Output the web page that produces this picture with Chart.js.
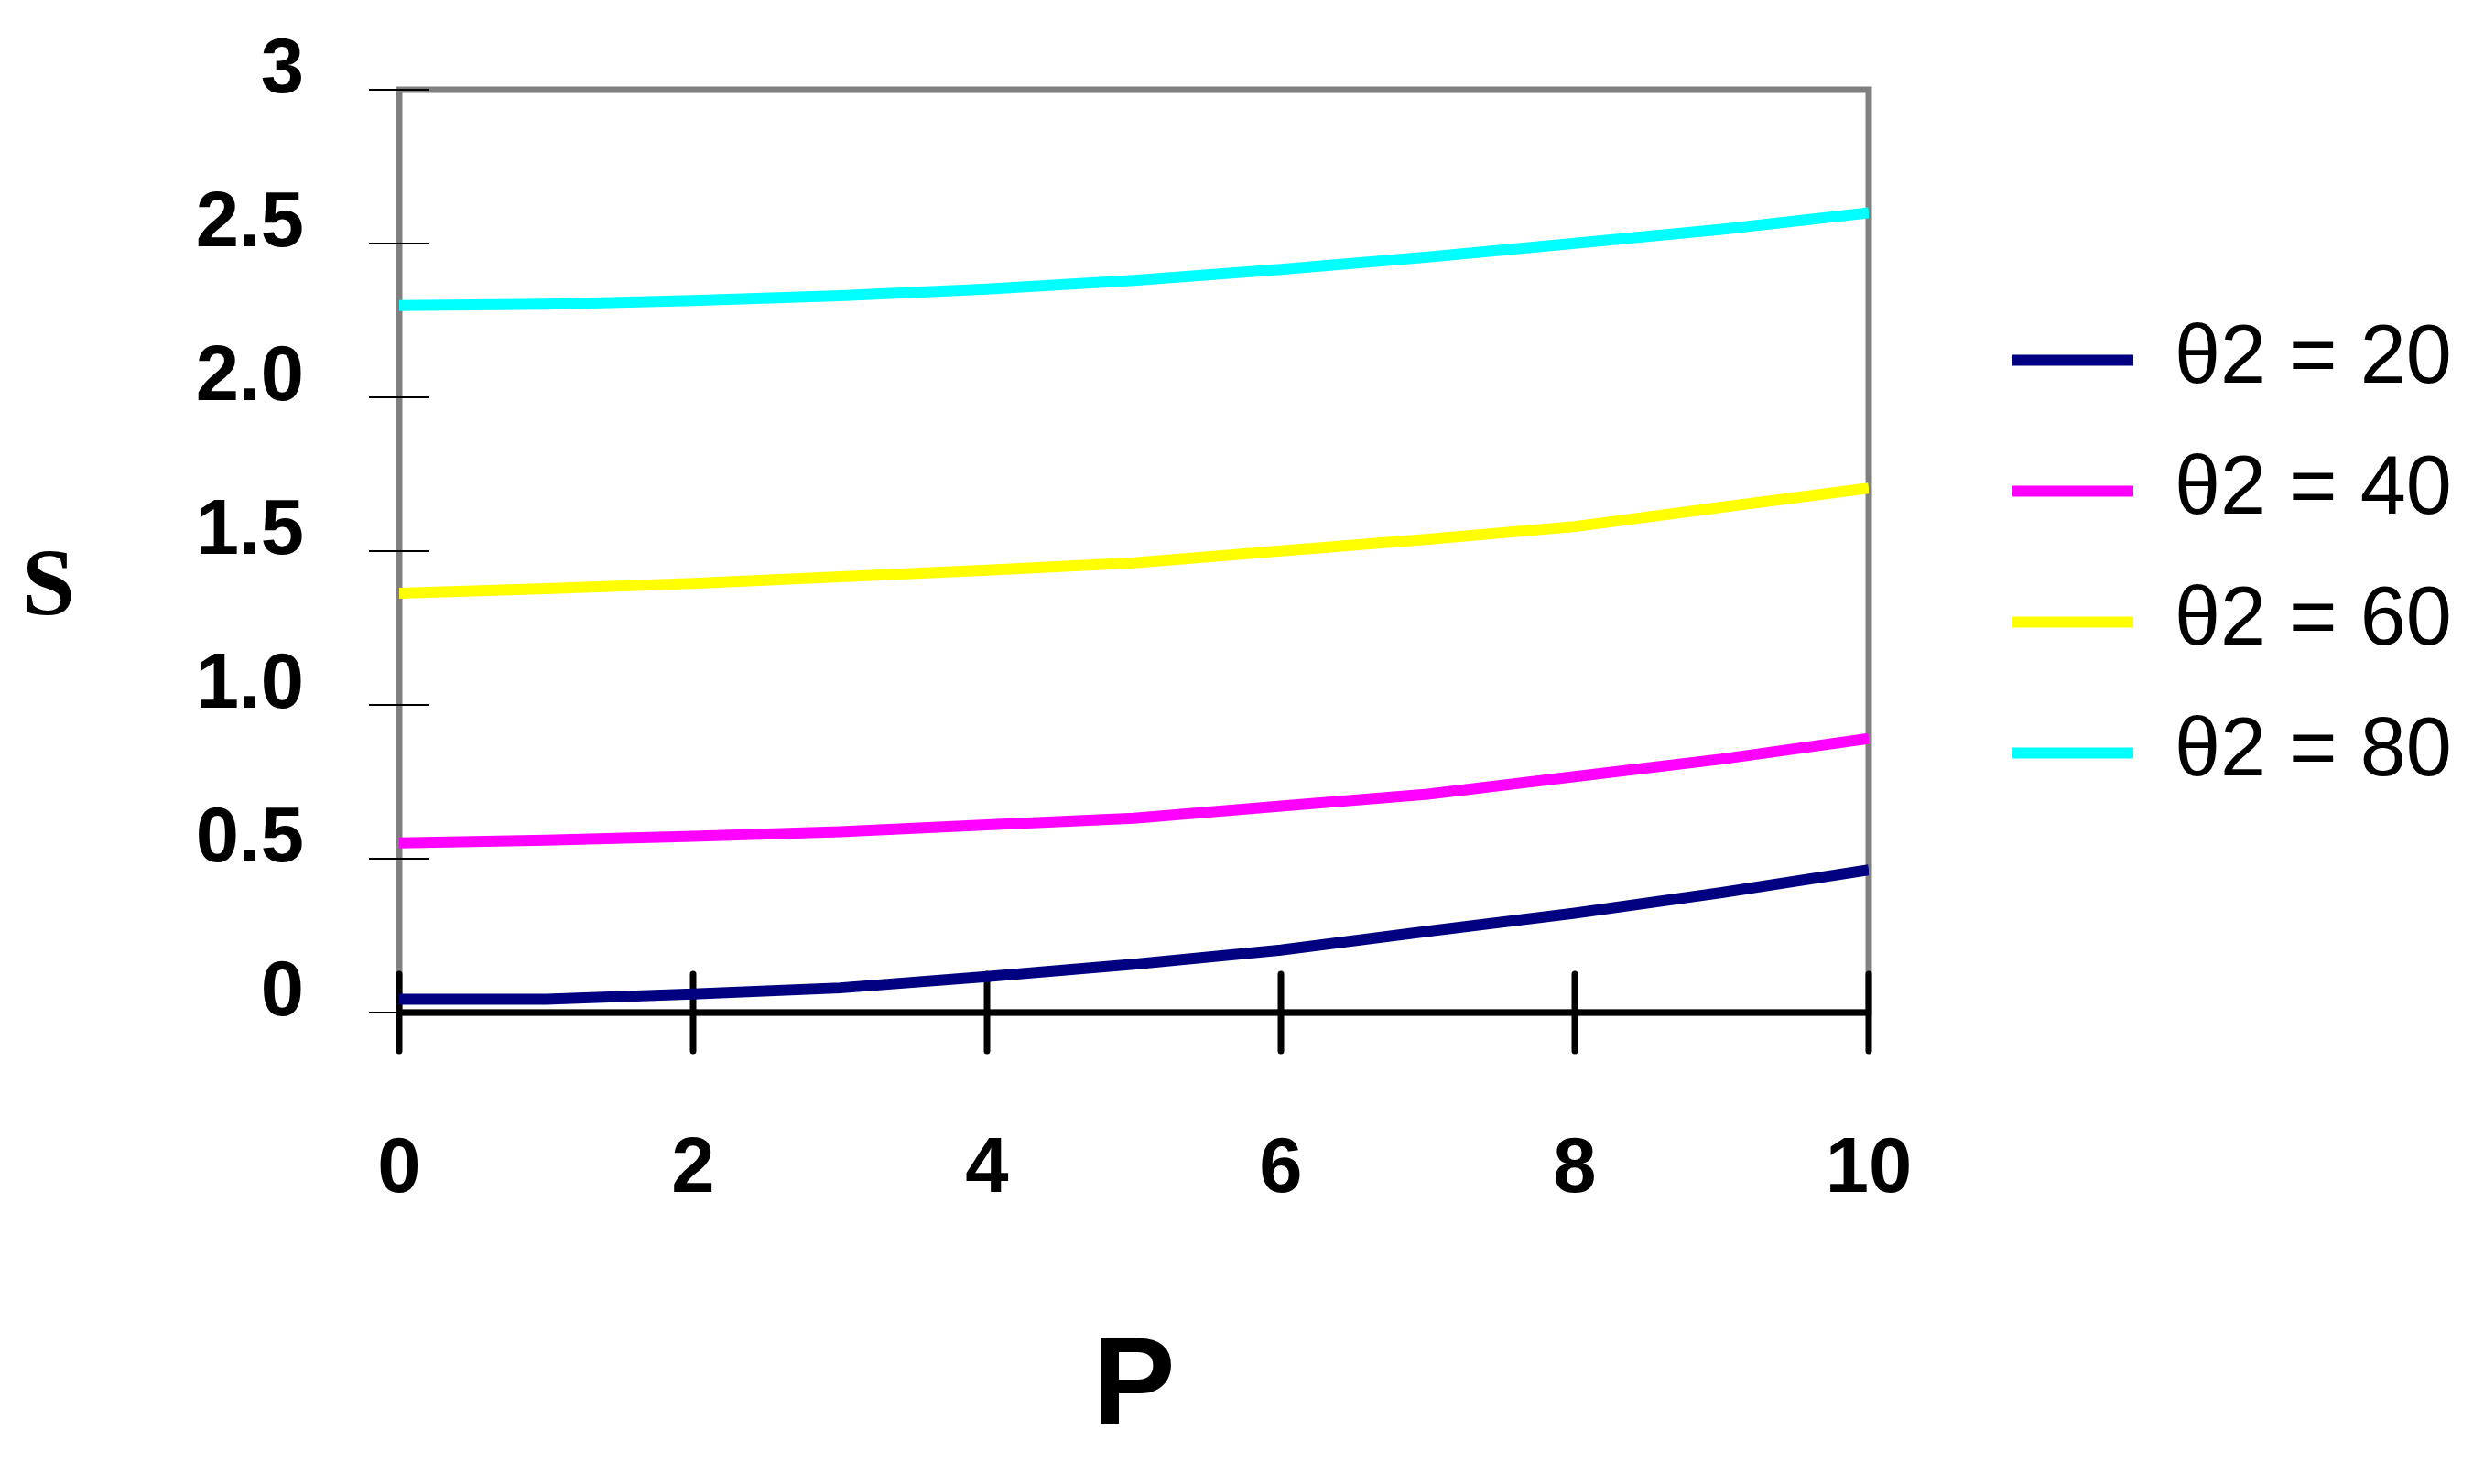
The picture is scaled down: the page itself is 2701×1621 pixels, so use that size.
<!DOCTYPE html>
<html>
<head>
<meta charset="utf-8">
<title>S against P</title>
<script src="https://cdn.jsdelivr.net/npm/chart.js@4.4.1/dist/chart.umd.min.js"></script>
<style>
  html, body { margin: 0; padding: 0; background: #fff; }
  #sChart { display: block; }
</style>
</head>
<body>
<canvas id="sChart" width="2701" height="1621"></canvas>
<script>
// values
const pValues = [0, 1, 2, 3, 4, 5, 6, 7, 8, 9, 10];
const s20 = [0.043, 0.043, 0.060, 0.080, 0.117, 0.157, 0.203, 0.264, 0.323, 0.390, 0.464];
const s40 = [0.551, 0.560, 0.573, 0.588, 0.610, 0.632, 0.671, 0.710, 0.767, 0.824, 0.891];
const s60 = [1.363, 1.378, 1.395, 1.417, 1.438, 1.462, 1.501, 1.539, 1.580, 1.643, 1.705];
const s80 = [2.298, 2.303, 2.315, 2.330, 2.352, 2.380, 2.416, 2.456, 2.501, 2.546, 2.600];
const seriesNames = ['θ2 = 20', 'θ2 = 40', 'θ2 = 60', 'θ2 = 80'];
const seriesColors = ['#000080', '#ff00ff', '#ffff00', '#00ffff'];

const xTickValues = [0, 2, 4, 6, 8, 10];
const xTickLabels = ['0', '2', '4', '6', '8', '10'];
const yTickValues = [0, 0.5, 1, 1.5, 2, 2.5, 3];
const yTickLabels = ['0', '0.5', '1.0', '1.5', '2.0', '2.5', '3'];
const xTitle = 'P';
const yTitle = 'S';

document.addEventListener('DOMContentLoaded', function() {

const sans = "'Liberation Sans', Arial, sans-serif";

function points(ys) {
  return pValues.map((p, i) => ({ x: p, y: ys[i] }));
}

// grey frame, crossing tick marks and the thick black P axis
const axisFrame = {
  id: 'axisFrame',
  beforeDatasetsDraw(chart) {
    const { ctx, chartArea: a, scales } = chart;
    const line = (x1, y1, x2, y2) => {
      ctx.beginPath();
      ctx.moveTo(x1, y1);
      ctx.lineTo(x2, y2);
      ctx.stroke();
    };
    ctx.save();
    ctx.strokeStyle = '#808080';
    ctx.lineWidth = 7;
    ctx.strokeRect(a.left, a.top, a.right - a.left, a.bottom - a.top);

    ctx.strokeStyle = '#000';
    ctx.lineWidth = 2;
    scales.y.ticks.forEach(t => {
      const py = scales.y.getPixelForValue(t.value);
      line(a.left - 33, py, a.left + 33, py);
    });

    ctx.lineWidth = 7;
    line(a.left, a.bottom, a.right, a.bottom);
    ctx.lineCap = 'round';
    scales.x.ticks.forEach(t => {
      const px = scales.x.getPixelForValue(t.value);
      line(px, a.bottom - 42, px, a.bottom + 42);
    });
    ctx.restore();
  },
  afterDraw(chart) {
    // upright serif "S" to the left of the value axis
    const { ctx, chartArea: a } = chart;
    ctx.save();
    ctx.fillStyle = '#000';
    ctx.font = "bold 104px 'Liberation Serif', 'Times New Roman', serif";
    ctx.textAlign = 'center';
    ctx.textBaseline = 'middle';
    ctx.fillText(yTitle, a.left - 383, (a.top + a.bottom) / 2 + 42);
    ctx.restore();
  }
};

// push the legend away from the plot, like the original layout
const legendPlace = {
  id: 'legendPlace',
  beforeInit(chart) {
    const fit = chart.legend.fit;
    chart.legend.fit = function() {
      fit.call(this);
      this.width = 660;
    };
  },
  afterLayout(chart) {
    chart.legend.left += 104;
    chart.legend.right += 104;
    chart.legend.top += 6;
    chart.legend.bottom += 6;
  }
};

const ctx = document.getElementById('sChart').getContext('2d');
const sChart = new Chart(ctx, {
  type: 'line',
  data: {
    datasets: [s20, s40, s60, s80].map((ys, i) => ({
      label: seriesNames[i],
      data: points(ys),
      borderColor: seriesColors[i],
      backgroundColor: seriesColors[i],
      borderWidth: 12,
      pointRadius: 0,
      tension: 0
    }))
  },
  options: {
    responsive: false,
    animation: false,
    layout: { padding: { top: 98, left: 0, right: 0, bottom: 0 } },
    scales: {
      x: {
        type: 'linear',
        min: 0,
        max: 10,
        afterBuildTicks: s => { s.ticks = xTickValues.map(v => ({ value: v })); },
        afterFit: s => { s.height = 515; s.paddingLeft = 0; s.paddingRight = 0; },
        grid: { display: false, drawTicks: false },
        border: { display: false },
        ticks: {
          color: '#000',
          padding: 122,
          maxRotation: 0,
          font: { family: sans, size: 85, weight: 'bold' },
          callback: v => xTickLabels[xTickValues.indexOf(v)]
        },
        title: {
          display: true,
          text: xTitle,
          color: '#000',
          padding: { top: 0, bottom: 22 },
          font: { family: sans, size: 135, weight: 'bold' }
        }
      },
      y: {
        min: 0,
        max: 3,
        afterBuildTicks: s => { s.ticks = yTickValues.map(v => ({ value: v })); },
        afterFit: s => { s.width = 436; s.paddingTop = 0; s.paddingBottom = 0; },
        grid: { display: false, drawTicks: false },
        border: { display: false },
        ticks: {
          color: '#000',
          padding: 104,
          labelOffset: -20,
          font: { family: sans, size: 85, weight: 'bold' },
          callback: v => yTickLabels[yTickValues.indexOf(v)]
        }
      }
    },
    plugins: {
      tooltip: { enabled: false },
      legend: {
        position: 'right',
        align: 'center',
        fullSize: false,
        labels: {
          color: '#000',
          boxWidth: 132,
          boxHeight: 12,
          padding: 53,
          font: { family: sans, size: 90 },
          generateLabels(chart) {
            return Chart.defaults.plugins.legend.labels.generateLabels(chart)
              .map(l => Object.assign(l, { lineWidth: 0, fillStyle: l.strokeStyle }));
          }
        }
      }
    }
  },
  plugins: [axisFrame, legendPlace]
});

});
</script>
</body>
</html>
